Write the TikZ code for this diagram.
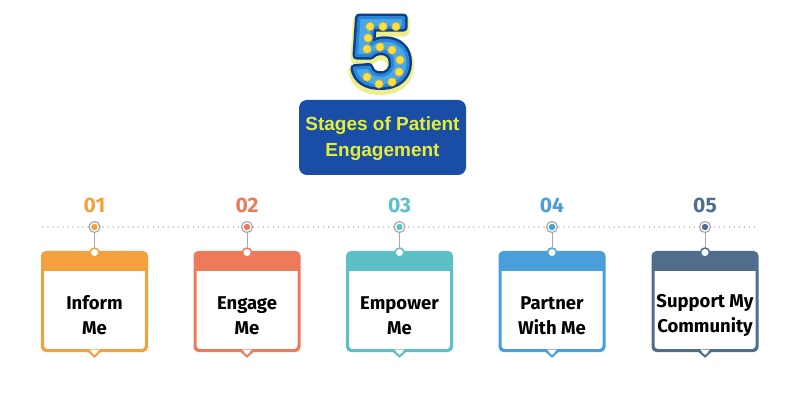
\documentclass[tikz,border=0pt]{standalone}
\usepackage{fontspec}
\setmainfont{Fira Sans}
\newfontfamily\titlefont{Liberation Sans}
\newfontfamily\fivefont[FakeStretch=1.1]{Liberation Sans}
\usetikzlibrary{calc}
\definecolor{cA}{HTML}{F4A03E}
\definecolor{cB}{HTML}{EE7A5C}
\definecolor{cC}{HTML}{5CC0C6}
\definecolor{cD}{HTML}{4A9EDA}
\definecolor{cE}{HTML}{506E8C}
\definecolor{titlebg}{HTML}{1A4DA6}
\definecolor{titlefg}{HTML}{E4EE3A}
\definecolor{pale}{HTML}{EEF08A}
\definecolor{navy}{HTML}{0D3E8C}
\definecolor{midblue}{HTML}{2A86D6}
\definecolor{lightblue}{HTML}{46A9EC}
\definecolor{bulb}{HTML}{F7E23B}
\definecolor{bulbedge}{HTML}{E8A83A}
\definecolor{rail}{HTML}{A8A8A8}
\newcommand\outlinedfive[2]{\special{pdf:literal direct 2 Tr #1 w 1 j 1 J #2 RG}5\special{pdf:literal direct 0 Tr}}
\tikzset{
  fivechar/.style={anchor=base, inner sep=0, font=\fivefont\bfseries\fontsize{98}{98}\selectfont},
  bulbdot/.style={circle, fill=bulb, draw=bulbedge, line width=0.6, minimum size=8.5, inner sep=0},
  stagebox/.style={rectangle, rounded corners=4, draw=#1, line width=2, fill=white, minimum width=103, minimum height=97, inner sep=0},
  topring/.style={circle, draw=#1, fill=white, line width=1.5, minimum size=9, inner sep=0},
  railring/.style={circle, draw=rail, fill=white, line width=1.2, minimum size=11, inner sep=0},
  stagetext/.style={font=\bfseries\fontsize{18.5}{25}\selectfont, align=center, text=black},
  stagenum/.style={font=\bfseries\fontsize{21}{21}\selectfont, text=#1},
}
\begin{document}
\begin{tikzpicture}[x=1pt,y=-1pt]
\useasboundingbox[fill=white] (0,0) rectangle (800,419);
% the big 5
\node[fivechar, text=pale] (fiveshade) at (381,88) {\outlinedfive{12}{0.93 0.94 0.54}};
\node[fivechar, text=navy] (fiveedge) at (381,85) {\outlinedfive{8}{0.05 0.24 0.55}};
\node[fivechar, text=lightblue] (five) at (381,85) {\outlinedfive{3}{0.16 0.53 0.84}};
\foreach \n/\p in {1/{370,26.5},2/{383,26.5},3/{396,26.5},4/{368,38},5/{367,49},6/{380,47},7/{392,50},8/{400,60},9/{399,72},10/{392,82},11/{379,84},12/{367,77}}
  \node[bulbdot] (bulb\n) at (\p) {};
% title
\node[rectangle, rounded corners=8, fill=titlebg, minimum width=167, minimum height=75, inner sep=0] (title) at (382.5,137.5) {};
\node[font=\titlefont\bfseries\fontsize{19}{26}\selectfont, text=titlefg, align=center] (titletext) at (382.5,138.5) {Stages of Patient\\Engagement};
% rail
\coordinate (railL) at (43,227);
\coordinate (railR) at (757,227);
\draw[rail!80, line width=1.4, dash pattern=on 0.01pt off 5pt, line cap=round] (railL) -- (railR);
% stages
\foreach \i/\cx/\col/\txt in {1/94.5/cA/{Inform\\Me},2/247/cB/{Engage\\Me},3/399.5/cC/{Empower\\Me},4/552/cD/{Partner\\With Me},5/705/cE/{Support My\\Community}} {
  \node[stagebox=\col] (box\i) at (\cx,301.5) {};
  \begin{scope}
    \clip[rounded corners=4] (box\i.north west) rectangle (box\i.south east);
    \fill[\col] (box\i.north west) rectangle ($(box\i.north east)+(0,19)$);
  \end{scope}
  \draw[\col, line width=2, rounded corners=4] (box\i.north west) rectangle (box\i.south east);
  \fill[white] ($(box\i.south)+(-5,-1.5)$) -- ($(box\i.south)+(5,-1.5)$) -- ($(box\i.south)+(0,4)$) -- cycle;
  \draw[\col, line width=2, line join=miter] ($(box\i.south)+(-6,0)$) -- ($(box\i.south)+(0,5.5)$) -- ($(box\i.south)+(6,0)$);
  \node[railring] (dot\i) at (\cx,227) {};
  \fill[\col] (dot\i) circle (3.2);
  \node[topring=\col] (top\i) at (\cx,252.5) {};
  \draw[rail, line width=1] (dot\i.south) -- (top\i.north);
  \node[stagenum=\col] (num\i) at (\cx,205) {0\i};
  \node[stagetext] (txt\i) at (\cx,315.5) {\txt};
}
\end{tikzpicture}
\end{document}
